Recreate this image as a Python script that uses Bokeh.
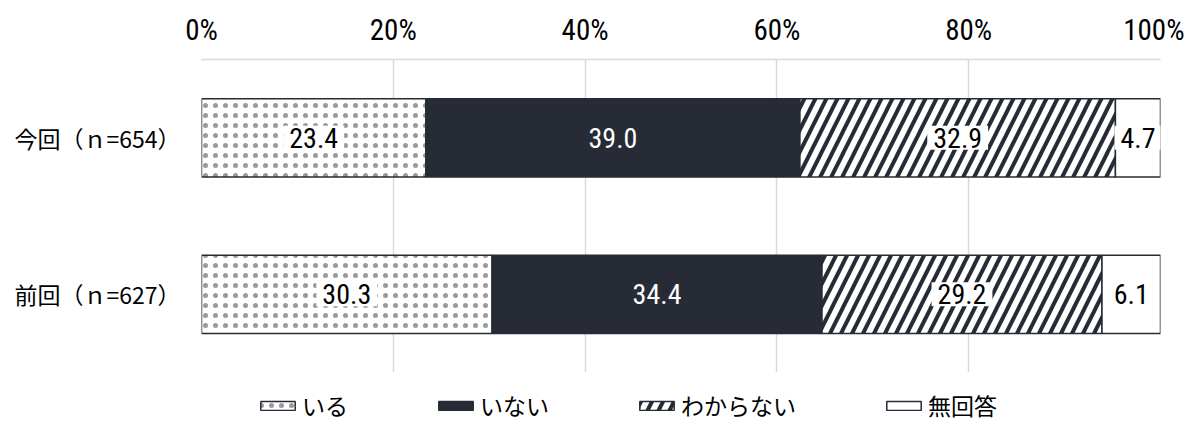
import numpy as np
from bokeh.plotting import figure
from bokeh.layouts import column
from bokeh.models import ColumnDataSource, FactorRange, Legend, LegendItem, FixedTicker
from bokeh.core.properties import value
from bokeh.embed import file_html
from bokeh.resources import INLINE

# ---- data ----
categories = ["前回（ｎ=627）", "今回（ｎ=654）"]
series = ["いる", "いない", "わからない", "無回答"]
iru = [30.3, 23.4]
inai = [34.4, 39.0]
wakaranai = [29.2, 32.9]
mukaitou = [6.1, 4.7]
x_ticks = [0, 20, 40, 60, 80, 100]
x_tick_labels = ["0%", "20%", "40%", "60%", "80%", "100%"]

DARK = "#262B36"
NUM_FONT = "Roboto Condensed"
JP_FONT = "Noto Sans CJK JP"

values = np.array([iru, inai, wakaranai, mukaitou])  # series x categories
rights = np.cumsum(values, axis=0)
lefts = rights - values

W = 1184
p = figure(width=W, height=372, output_backend="svg", toolbar_location=None,
           x_range=(0, 100), y_range=FactorRange(factors=categories),
           x_axis_location="above",
           min_border_left=201, min_border_right=W - 1160, min_border_top=59, min_border_bottom=0)
p.outline_line_color = None

styles = [
    dict(fill_color="white", hatch_pattern="dot", hatch_color="#9a9a9a", hatch_scale=10, hatch_weight=1),
    dict(fill_color=DARK),
    dict(fill_color="white", hatch_pattern="right_diagonal_line", hatch_color=DARK, hatch_scale=22, hatch_weight=4),
    dict(fill_color="white"),
]

for i, name in enumerate(series):
    src = ColumnDataSource(dict(y=categories, left=lefts[i], right=rights[i]))
    p.hbar(y="y", left="left", right="right", height=0.5, source=src,
           line_color=DARK, line_width=1.5, **styles[i])

# data labels
lx, ly, lt = [], [], []
dx, dy, dt = [], [], []
for i in range(len(series)):
    for j, c in enumerate(categories):
        xc = (lefts[i][j] + rights[i][j]) / 2
        txt = f"{values[i][j]:.1f}"
        if i == 1:
            dx.append(xc); dy.append(c); dt.append(txt)
        else:
            lx.append(xc); ly.append(c); lt.append(txt)

p.text(x="x", y="y", text="t", source=ColumnDataSource(dict(x=lx, y=ly, t=lt)),
       text_align="center", text_baseline="middle", text_color="black",
       text_font=value(NUM_FONT), text_font_size=value("28px"),
       background_fill_color="white", padding=dict(left=6, right=6, top=2, bottom=2))
p.text(x="x", y="y", text="t", source=ColumnDataSource(dict(x=dx, y=dy, t=dt)),
       text_align="center", text_baseline="middle", text_color="white",
       text_font=value(NUM_FONT), text_font_size=value("28px"))

# axes
xa = p.xaxis[0]
xa.ticker = FixedTicker(ticks=x_ticks)
xa.major_label_overrides = {t: l for t, l in zip(x_ticks, x_tick_labels)}
xa.major_label_text_font = NUM_FONT
xa.major_label_text_font_size = "29px"
xa.major_label_text_color = "black"
xa.axis_line_color = "#d9d9d9"
xa.axis_line_width = 1.5
xa.major_tick_line_color = None
xa.minor_tick_line_color = None
xa.major_tick_out = 0
xa.major_tick_in = 0
xa.major_label_standoff = 13

ya = p.yaxis[0]
ya.axis_line_color = None
ya.major_tick_line_color = None
ya.minor_tick_line_color = None
ya.major_tick_out = 0
ya.major_tick_in = 0
ya.major_label_text_font = JP_FONT
ya.major_label_text_font_size = "23px"
ya.major_label_text_color = "black"
ya.major_label_standoff = 21

p.xgrid.grid_line_color = "#d9d9d9"
p.xgrid.grid_line_width = 1.5
p.ygrid.grid_line_color = None

# legend in a strip below the chart (undrawn NaN bars give the swatches)
lg = figure(width=W, height=50, output_backend="svg", toolbar_location=None,
            x_range=(0, 1), y_range=(0, 1), x_axis_location=None, y_axis_location=None,
            min_border_left=201, min_border_right=W - 1160, min_border_top=0, min_border_bottom=0)
lg.outline_line_color = None
lg.xgrid.grid_line_color = None
lg.ygrid.grid_line_color = None
items = []
for i, name in enumerate(series):
    r = lg.hbar(y=[np.nan], left=[np.nan], right=[np.nan], height=0.5,
                line_color=DARK, line_width=1.5, **styles[i])
    items.append(LegendItem(label=name, renderers=[r]))
legend = Legend(items=items, orientation="horizontal", location=(55, 0),
                glyph_width=43, glyph_height=11, label_standoff=3, spacing=86,
                padding=0, margin=0, border_line_color=None, background_fill_alpha=0,
                label_text_font=JP_FONT, label_text_font_size="23px", label_text_color="black")
lg.add_layout(legend, "center")

layout = column(p, lg, spacing=0)
open("out.html", "w").write(file_html(layout, INLINE))
